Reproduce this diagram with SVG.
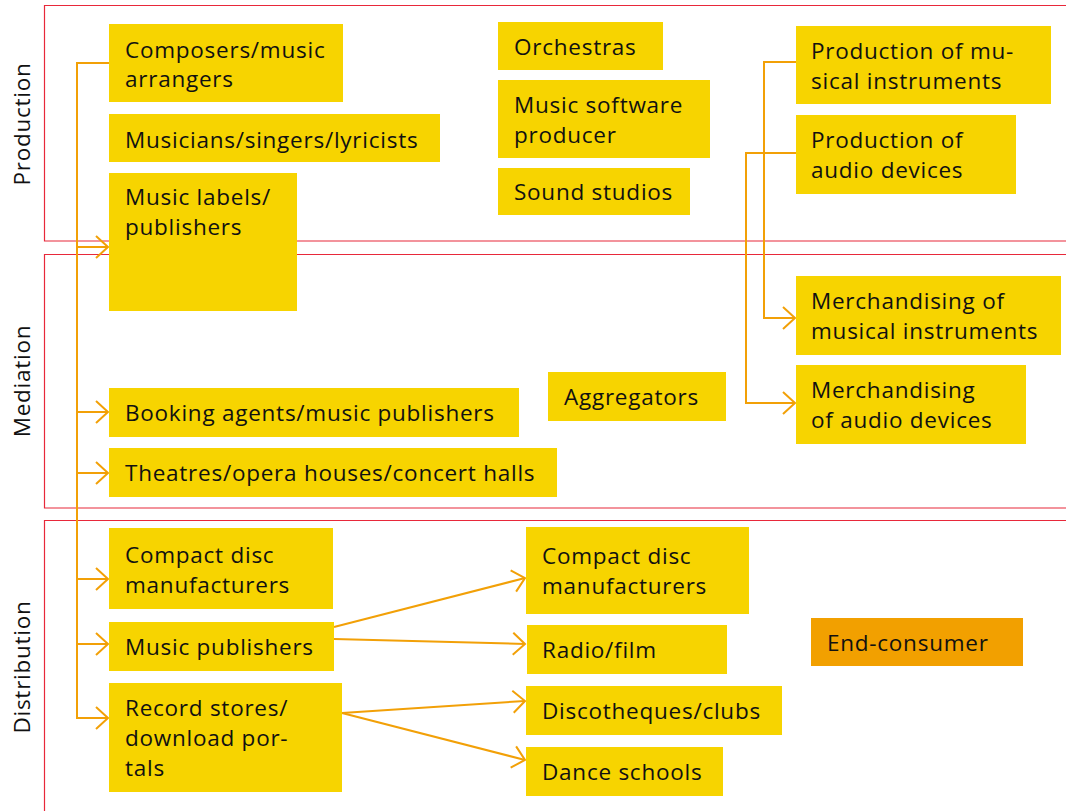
<svg xmlns="http://www.w3.org/2000/svg" width="1066" height="811" viewBox="0 0 1066 811">
  <style>
    .frame { fill: none; stroke: #e8283a; stroke-width: 1.2; }
    .box { fill: #f7d400; }
    .end { fill: #f2a000; }
    .t { font-family: "Open Sans", "Noto Sans", "Liberation Sans", sans-serif; font-size: 22.5px; font-weight: 500; letter-spacing: 0.75px; fill: #111; }
    .lane { font-family: "Open Sans", "Noto Sans", "Liberation Sans", sans-serif; font-size: 22.5px; letter-spacing: 0.75px; fill: #111; text-anchor: middle; }
    .c { fill: none; stroke: #f2a007; stroke-width: 2; }
  </style>
  <defs>
    <marker id="arr" markerUnits="userSpaceOnUse" markerWidth="16" markerHeight="24" refX="13" refY="12" orient="auto">
      <path d="M1,1 L13,12 L1,23" fill="none" stroke="#f2a007" stroke-width="2"/>
    </marker>
  </defs>

  <rect width="1066" height="811" fill="#fff"/>

  <!-- Lanes -->
  <g id="lanes">
    <path class="frame" d="M1070,5.5 H44.5 V241 H1070"/>
    <path class="frame" d="M1070,254.5 H44.5 V508 H1070"/>
    <path class="frame" d="M1070,520.5 H44.5 V815"/>
    <text class="lane" transform="translate(30,124) rotate(-90)">Production</text>
    <text class="lane" transform="translate(30,381) rotate(-90)">Mediation</text>
    <text class="lane" transform="translate(30,667) rotate(-90)">Distribution</text>
  </g>

  <!-- Connectors -->
  <g id="connectors">
    <path class="c" d="M109,63 H77 V718 H108" marker-end="url(#arr)"/>
    <path class="c" d="M77,247 H108" marker-end="url(#arr)"/>
    <path class="c" d="M77,412 H108" marker-end="url(#arr)"/>
    <path class="c" d="M77,473 H108" marker-end="url(#arr)"/>
    <path class="c" d="M77,579 H108" marker-end="url(#arr)"/>
    <path class="c" d="M77,644 H108" marker-end="url(#arr)"/>
    <path class="c" d="M796,62 H764 V318 H795" marker-end="url(#arr)"/>
    <path class="c" d="M796,153 H746 V403 H795" marker-end="url(#arr)"/>
    <path class="c" d="M334,627 L525,578" marker-end="url(#arr)"/>
    <path class="c" d="M334,639 L525,644" marker-end="url(#arr)"/>
    <path class="c" d="M342,713 L525,701" marker-end="url(#arr)"/>
    <path class="c" d="M342,713 L525,760" marker-end="url(#arr)"/>
  </g>

  <!-- Production -->
  <g id="composers">
    <rect class="box" x="109" y="24" width="234" height="78"/>
    <text class="t" x="125" y="58">Composers/music</text>
    <text class="t" x="125" y="87">arrangers</text>
  </g>
  <g id="musicians">
    <rect class="box" x="109" y="114" width="331" height="48"/>
    <text class="t" x="125" y="148">Musicians/singers/lyricists</text>
  </g>
  <g id="labels">
    <rect class="box" x="109" y="173" width="188" height="138"/>
    <text class="t" x="125" y="205">Music labels/</text>
    <text class="t" x="125" y="235">publishers</text>
  </g>
  <g id="orchestras">
    <rect class="box" x="498" y="22" width="165" height="48"/>
    <text class="t" x="514" y="55">Orchestras</text>
  </g>
  <g id="software">
    <rect class="box" x="498" y="80" width="212" height="78"/>
    <text class="t" x="514" y="113">Music software</text>
    <text class="t" x="514" y="143">producer</text>
  </g>
  <g id="studios">
    <rect class="box" x="498" y="168" width="192" height="47"/>
    <text class="t" x="514" y="200">Sound studios</text>
  </g>
  <g id="prod-instruments">
    <rect class="box" x="796" y="26" width="255" height="78"/>
    <text class="t" x="811" y="59">Production of mu-</text>
    <text class="t" x="811" y="89">sical instruments</text>
  </g>
  <g id="prod-audio">
    <rect class="box" x="796" y="115" width="220" height="79"/>
    <text class="t" x="811" y="148">Production of</text>
    <text class="t" x="811" y="178">audio devices</text>
  </g>

  <!-- Mediation -->
  <g id="merch-instruments">
    <rect class="box" x="796" y="276" width="265" height="79"/>
    <text class="t" x="811" y="309">Merchandising of</text>
    <text class="t" x="811" y="339">musical instruments</text>
  </g>
  <g id="merch-audio">
    <rect class="box" x="796" y="365" width="230" height="79"/>
    <text class="t" x="811" y="398">Merchandising</text>
    <text class="t" x="811" y="428">of audio devices</text>
  </g>
  <g id="aggregators">
    <rect class="box" x="548" y="372" width="178" height="49"/>
    <text class="t" x="564" y="405">Aggregators</text>
  </g>
  <g id="booking">
    <rect class="box" x="109" y="388" width="410" height="49"/>
    <text class="t" x="125" y="421">Booking agents/music publishers</text>
  </g>
  <g id="theatres">
    <rect class="box" x="109" y="448" width="448" height="49"/>
    <text class="t" x="125" y="481">Theatres/opera houses/concert halls</text>
  </g>

  <!-- Distribution -->
  <g id="cd-left">
    <rect class="box" x="109" y="528" width="224" height="81"/>
    <text class="t" x="125" y="563">Compact disc</text>
    <text class="t" x="125" y="593">manufacturers</text>
  </g>
  <g id="publishers">
    <rect class="box" x="109" y="622" width="225" height="49"/>
    <text class="t" x="125" y="655">Music publishers</text>
  </g>
  <g id="stores">
    <rect class="box" x="109" y="683" width="233" height="109"/>
    <text class="t" x="125" y="716">Record stores/</text>
    <text class="t" x="125" y="746">download por-</text>
    <text class="t" x="125" y="776">tals</text>
  </g>
  <g id="cd-right">
    <rect class="box" x="526" y="527" width="223" height="87"/>
    <text class="t" x="542" y="564">Compact disc</text>
    <text class="t" x="542" y="594">manufacturers</text>
  </g>
  <g id="radio">
    <rect class="box" x="527" y="625" width="200" height="49"/>
    <text class="t" x="542" y="658">Radio/film</text>
  </g>
  <g id="clubs">
    <rect class="box" x="526" y="686" width="256" height="49"/>
    <text class="t" x="542" y="719">Discotheques/clubs</text>
  </g>
  <g id="dance">
    <rect class="box" x="526" y="747" width="197" height="49"/>
    <text class="t" x="542" y="780">Dance schools</text>
  </g>
  <g id="end-consumer">
    <rect class="end" x="811" y="618" width="212" height="48"/>
    <text class="t" x="827" y="651">End-consumer</text>
  </g>
</svg>
